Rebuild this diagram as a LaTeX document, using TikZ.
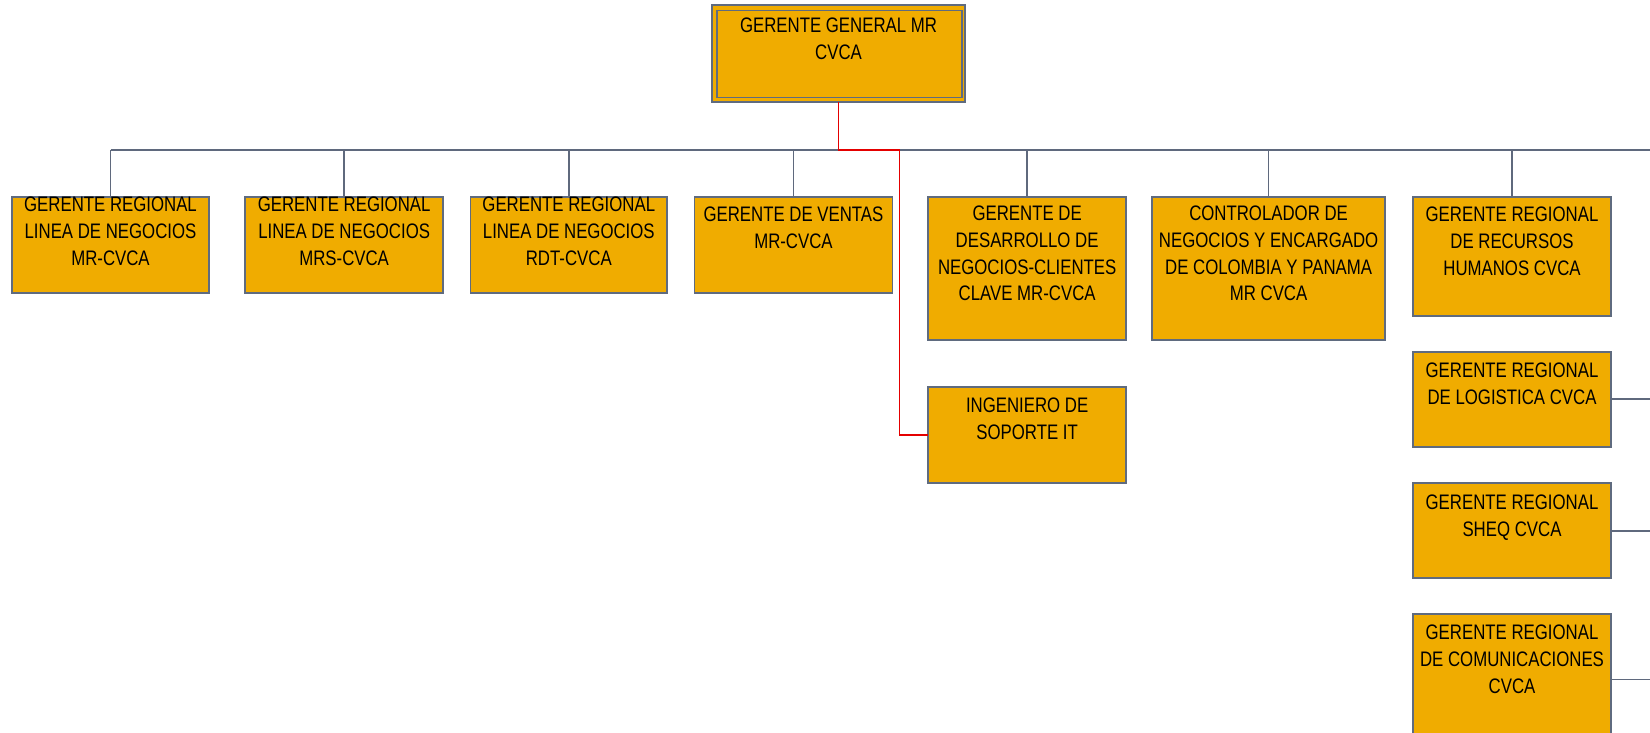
\documentclass[tikz,border=0pt]{standalone}
\usepackage{fontspec}
\setmainfont{Liberation Sans}[FakeStretch=0.8]
\definecolor{boxfill}{RGB}{240,172,0}
\definecolor{boxline}{RGB}{95,107,127}
\definecolor{connline}{RGB}{95,105,125}
\definecolor{redline}{RGB}{228,0,0}
\tikzset{
  obox/.style={draw=boxline, line width=1.8pt, fill=boxfill, inner sep=0pt, outer sep=0pt},
  otext/.style={inner sep=0pt, outer sep=0pt, align=center, font=\fontsize{21}{26.7}\selectfont, text=black},
  conn/.style={draw=connline, line width=1.5pt},
  connthick/.style={draw=connline, line width=2.8pt},
  redl/.style={draw=redline, line width=1.6pt}
}
\newcommand\orgbox[7]{%
  \node[obox, anchor=north west, minimum width={(#4-#2)*1pt}, minimum height={(#5-#3)*1pt}] (#1) at (#2,#3) {};
  \node[otext, anchor=north] (#1t) at ({(#2+#4)/2},#6) {#7};
}
\begin{document}
\begin{tikzpicture}[x=1pt,y=-1pt]
\path[use as bounding box] (0,0) rectangle (1650,733);
\clip (0,0) rectangle (1650,733);
\fill[white] (0,0) rectangle (1650,733);
% bus
\coordinate (busL) at (110.5,150);
\coordinate (jn) at (838.5,150);
\coordinate (rj) at (899.3,150);
\coordinate (busR) at (1652,150);
\draw[conn] (busL) -- (jn);
\draw[connthick] (jn) -- (busR);
% top box
\node[obox, anchor=north west, minimum width=253pt, minimum height=97pt] (top) at (712,5) {};
\node[draw=boxline, line width=1.5pt, inner sep=0pt, anchor=north west, minimum width=245pt, minimum height=87pt] (topin) at (716,10) {};
\node[otext, anchor=north] (topt) at (838.5,18) {GERENTE GENERAL MR\\CVCA};
% level boxes
\orgbox{b1}{11.7}{196.7}{209.3}{292.7}{197}{GERENTE REGIONAL\\LINEA DE NEGOCIOS\\MR-CVCA}
\orgbox{b2}{245}{196.7}{443.3}{292.7}{197}{GERENTE REGIONAL\\LINEA DE NEGOCIOS\\MRS-CVCA}
\orgbox{b3}{470.4}{196.7}{667.2}{292.7}{197}{GERENTE REGIONAL\\LINEA DE NEGOCIOS\\RDT-CVCA}
\orgbox{b4}{694.5}{196.7}{892.4}{292.7}{207}{GERENTE DE VENTAS\\MR-CVCA}
\orgbox{b5}{928.3}{196.7}{1126}{340}{206}{GERENTE DE\\DESARROLLO DE\\NEGOCIOS-CLIENTES\\CLAVE MR-CVCA}
\orgbox{b6}{1152.3}{196.7}{1384.9}{340}{206}{CONTROLADOR DE\\NEGOCIOS Y ENCARGADO\\DE COLOMBIA Y PANAMA\\MR CVCA}
\orgbox{b7}{1413.3}{196.7}{1610.7}{315.7}{207}{GERENTE REGIONAL\\DE RECURSOS\\HUMANOS CVCA}
\orgbox{ing}{928.3}{387.3}{1126}{482.7}{398}{INGENIERO DE\\SOPORTE IT}
\orgbox{log}{1413.3}{351.7}{1610.7}{446.7}{363}{GERENTE REGIONAL\\DE LOGISTICA CVCA}
\orgbox{sheq}{1413.3}{483.3}{1610.7}{578.3}{495}{GERENTE REGIONAL\\SHEQ CVCA}
\orgbox{com}{1413.3}{614}{1610.7}{745}{625}{GERENTE REGIONAL\\DE COMUNICACIONES\\CVCA}
% vertical drops
\foreach \n in {b1,b2,b3,b4,b5,b6,b7}{
  \draw[conn] (\n.north) -- (\n.north |- busL);
}
% right side connectors
\foreach \n in {log,sheq,com}{
  \draw[conn] (\n.east) -- (\n.east -| busR);
}
% red connector
\draw[redl] (top.south) -- (jn) -- (rj) |- (ing.west);
\end{tikzpicture}
\end{document}
